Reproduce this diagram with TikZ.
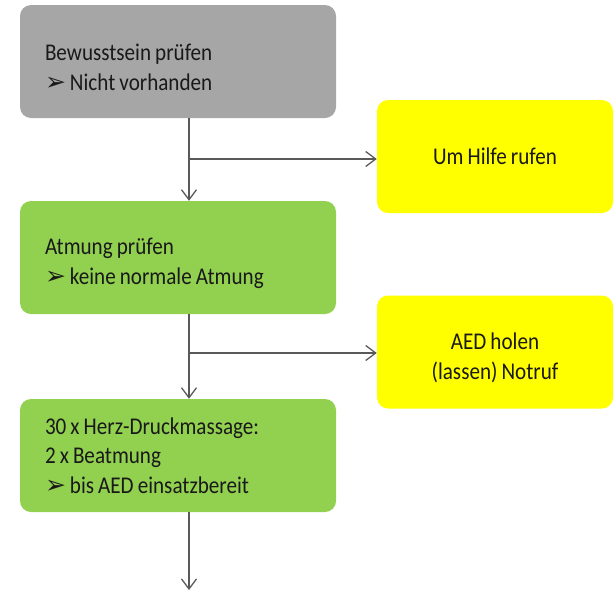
\documentclass[tikz,border=0pt]{standalone}
\usepackage{fontspec}
\setmainfont{Carlito}[FakeStretch=0.88]
\newfontfamily\symfont{DejaVu Sans}
\usetikzlibrary{arrows.meta}
\definecolor{BoxGray}{HTML}{A6A6A6}
\definecolor{StepGreen}{HTML}{92D050}
\definecolor{CallYellow}{HTML}{FFFF00}
\definecolor{LineGray}{HTML}{595959}
\newcommand{\schrift}{\fontsize{24}{29.5}\selectfont\spaceskip=0.17em\relax}
\newcommand{\pfeil}{{\symfont\bfseries\fontsize{25}{25}\selectfont ➢}\hspace{4pt}}
\newcommand{\oben}{\rule{0pt}{28pt}}

\begin{document}
\begin{tikzpicture}[x=1pt,y=-1pt,font=\schrift,
    stepbox/.style={rounded corners=11pt,minimum width=316pt,minimum height=113pt,
      text width=266pt,align=flush left,inner sep=0pt,text=black!90},
    sidebox/.style={fill=CallYellow,rounded corners=11pt,minimum width=236pt,
      minimum height=113pt,align=center,inner sep=0pt,text=black!90},
    link/.style={draw=LineGray,line width=1.3pt,-{Straight Barb[length=10pt,width=15pt]}}]
  \useasboundingbox (0,0) rectangle (615,592);
  % main steps
  \node[stepbox,fill=BoxGray] (bewusstsein) at (178,61.5)
    {\oben Bewusstsein prüfen\\\pfeil Nicht vorhanden};
  \node[stepbox,fill=StepGreen] (atmung) at (178,257.5)
    {\oben Atmung prüfen\\\pfeil keine normale Atmung};
  \node[stepbox,fill=StepGreen] (hdm) at (178,455.5)
    {30 x Herz-Druckmassage:\\2 x Beatmung\\\pfeil bis AED einsatzbereit};
  % side actions
  \node[sidebox] (hilfe) at (495,156.5) {Um Hilfe rufen};
  \node[sidebox] (aed) at (495,352) {\oben AED holen\\(lassen) Notruf};
  % connectors
  \coordinate (ast1) at (189,159);
  \coordinate (ast2) at (189,353);
  \coordinate (ende) at (189,590);
  \draw[link] (bewusstsein.south -| ast1) -- (atmung.north -| ast1);
  \draw[link] (ast1) -- (ast1 -| hilfe.west);
  \draw[link] (atmung.south -| ast2) -- (hdm.north -| ast2);
  \draw[link] (ast2) -- (ast2 -| aed.west);
  \draw[link] (hdm.south -| ende) -- (ende);
\end{tikzpicture}
\end{document}
